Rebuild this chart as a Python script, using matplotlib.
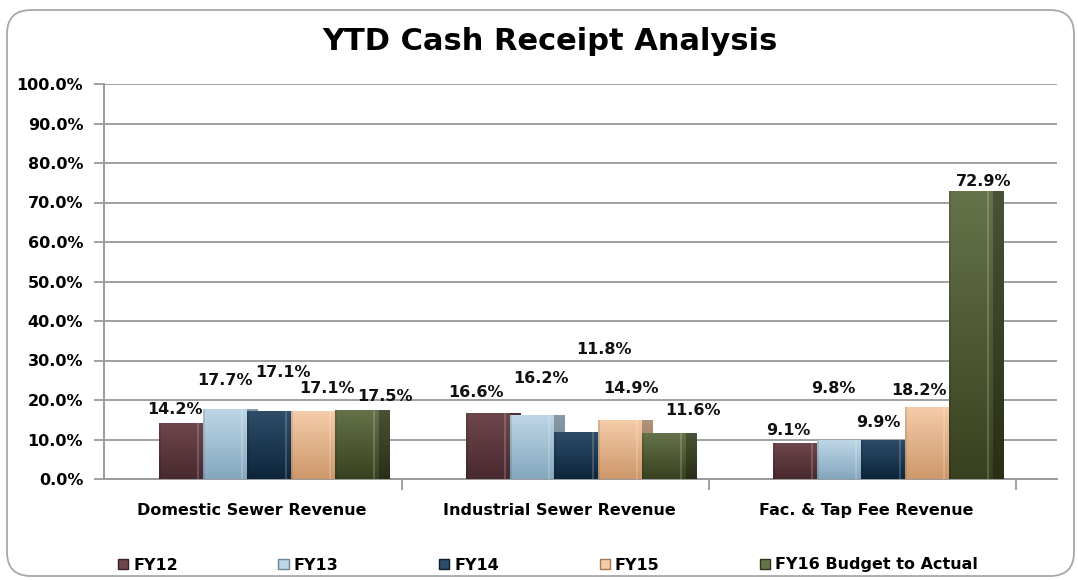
import matplotlib
matplotlib.use("Agg")
import matplotlib.pyplot as plt
import numpy as np
from matplotlib.patches import FancyBboxPatch, Patch, Rectangle
from matplotlib.colors import LinearSegmentedColormap, to_rgb

# ---------------- data ----------------
categories = ["Domestic Sewer Revenue", "Industrial Sewer Revenue", "Fac. & Tap Fee Revenue"]
series_names = ["FY12", "FY13", "FY14", "FY15", "FY16 Budget to Actual"]
fy12 = [14.2, 16.6, 9.1]
fy13 = [17.7, 16.2, 9.8]
fy14 = [17.1, 11.8, 9.9]
fy15 = [17.1, 14.9, 18.2]
fy16 = [17.5, 11.6, 72.9]
y_ticks = [0, 10, 20, 30, 40, 50, 60, 70, 80, 90, 100]
title = "YTD Cash Receipt Analysis"

# ---------------- style / layout ----------------
series = [fy12, fy13, fy14, fy15, fy16]
grad_colors = [
    ("#6e474c", "#48292e"),
    ("#bed6e7", "#84a7be"),
    ("#2f4d69", "#0c253c"),
    ("#f5cca9", "#cd976a"),
    ("#66734a", "#38411f"),
]
# label offsets (pixels) from top-centre of each bar: [series][category]
label_offsets = [
    [(-6, 13), (-12, 21), (-7, 13)],
    [(0, 29), (9, 37), (-6, 52)],
    [(14, 39), (28, 83), (-5, 17)],
    [(14, 23), (11, 32), (-8, 17)],
    [(28, 13), (29, 23), (13, 10)],
]
FONT = "DejaVu Sans"
FS = 11.5

W, H = 1078, 580
fig = plt.figure(figsize=(W / 100, H / 100), dpi=100)

bg = fig.add_axes([0, 0, 1, 1])
bg.set_xlim(0, W)
bg.set_ylim(H, 0)
bg.axis("off")
bg.add_patch(FancyBboxPatch((7, 10), 1067, 566,
                            boxstyle="round,pad=0,rounding_size=24",
                            fc="white", ec="#a8a8a8", lw=1.3))

ax = fig.add_axes([104 / W, 1 - 479 / H, (1057 - 104) / W, (479 - 84) / H])
ax.patch.set_alpha(0)

unit_px = 307.0
bw = 44 / unit_px
sw = 11 / unit_px
shift = 17 / unit_px
x = np.arange(len(categories))


def shade(c, f):
    r, g, b = to_rgb(c)
    return (r * f, g * f, b * f)


grad = np.linspace(0, 1, 256).reshape(-1, 1)
for j, vals in enumerate(series):
    top, bot = grad_colors[j]
    cmap = LinearSegmentedColormap.from_list("g%d" % j, [bot, top])
    cmap_side = LinearSegmentedColormap.from_list("s%d" % j, [shade(bot, 0.72), shade(top, 0.72)])
    xs = x + shift + (j - 2) * bw
    z = 3 + 2 * j
    bars = ax.bar(xs, vals, width=bw, color=top, zorder=z, linewidth=0)
    for k, rect in enumerate(bars):
        x0, w, h = rect.get_x(), rect.get_width(), rect.get_height()
        # side face
        side = Rectangle((x0 + w, 0), sw, h, fc=shade(top, 0.7), lw=0, zorder=z - 1)
        ax.add_patch(side)
        ims = ax.imshow(grad, extent=[x0 + w, x0 + w + sw, 0, h], origin="lower",
                        aspect="auto", cmap=cmap_side, zorder=z - 1, interpolation="bilinear")
        ims.set_clip_path(side)
        # front face gradient
        im = ax.imshow(grad, extent=[x0, x0 + w, 0, h], origin="lower",
                       aspect="auto", cmap=cmap, zorder=z, interpolation="bilinear")
        im.set_clip_path(rect)
        # bevel highlight
        ax.add_patch(Rectangle((x0 + w * 0.86, 0), w * 0.05, h, fc="white",
                               alpha=0.18, lw=0, zorder=z + 0.5))
        ax.add_patch(Rectangle((x0, 0), w * 0.04, h, fc="black",
                               alpha=0.10, lw=0, zorder=z + 0.5))
        dx, dy = label_offsets[j][k]
        ax.annotate(f"{vals[k]:.1f}%", xy=(x0 + w / 2, vals[k]),
                    xytext=(dx * 0.72, dy * 0.72), textcoords="offset points",
                    ha="center", va="center", fontsize=FS, fontweight="bold",
                    family=FONT, color="#111111", zorder=30)

ax.set_xlim(-148 / unit_px, (1057 - 252) / unit_px)
ax.set_ylim(0, 100)

ax.set_yticks(y_ticks)
ax.set_yticklabels([f"{v:.1f}%" for v in y_ticks], fontsize=FS, fontweight="bold", family=FONT)
ax.tick_params(axis="y", length=7, width=1.3, color="#9a9a9a", pad=8)
ax.yaxis.grid(True, color="#a0a0a0", lw=1.4, zorder=0)
ax.set_axisbelow(True)

ax.set_xticks(x)
ax.set_xticklabels(categories, fontsize=FS, fontweight="bold", family=FONT)
ax.tick_params(axis="x", which="major", length=0, pad=17)
ax.set_xticks(x + 0.49, minor=True)
ax.tick_params(axis="x", which="minor", length=8, width=1.3, color="#9a9a9a")

for s in ["top", "right"]:
    ax.spines[s].set_visible(False)
for s in ["left", "bottom"]:
    ax.spines[s].set_color("#9a9a9a")
    ax.spines[s].set_linewidth(1.4)

fig.text(550 / W, 1 - 41 / H, title, ha="center", va="center",
         fontsize=22, fontweight="bold", family=FONT)

handles = [Patch(facecolor=grad_colors[j][0], edgecolor=shade(grad_colors[j][1], 0.8), lw=1)
           for j in range(len(series_names))]
leg = fig.legend(handles, series_names, loc="center", bbox_to_anchor=(548 / W, 1 - 565 / H),
                 ncol=5, frameon=False, handlelength=0.65, handleheight=0.65,
                 handletextpad=0.3, columnspacing=6.3,
                 prop={"size": FS, "weight": "bold", "family": FONT})

fig.savefig("out.png", dpi=100)
